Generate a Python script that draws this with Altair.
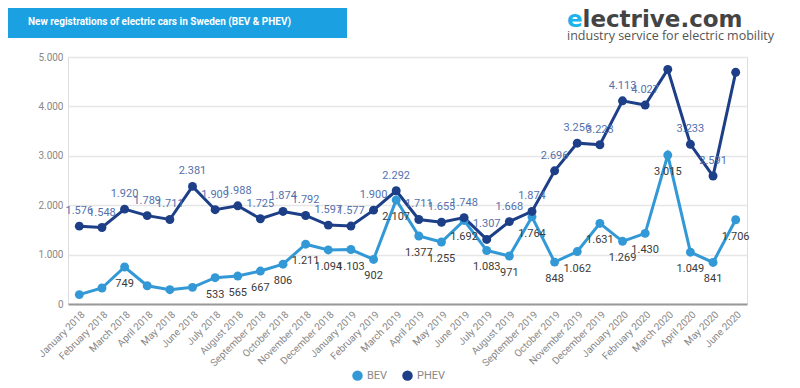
import altair as alt
import pandas as pd

months = [
    "January 2018", "February 2018", "March 2018", "April 2018", "May 2018", "June 2018",
    "July 2018", "August 2018", "September 2018", "October 2018", "November 2018", "December 2018",
    "January 2019", "February 2019", "March 2019", "April 2019", "May 2019", "June 2019",
    "July 2019", "August 2019", "September 2019", "October 2019", "November 2019", "December 2019",
    "January 2020", "February 2020", "March 2020", "April 2020", "May 2020", "June 2020",
]
bev = [190, 324, 749, 370, 290, 337, 533, 565, 667, 806, 1211, 1094,
       1103, 902, 2107, 1377, 1255, 1692, 1083, 971, 1764, 848, 1062, 1631,
       1269, 1430, 3015, 1049, 841, 1706]
phev = [1576, 1548, 1920, 1789, 1711, 2381, 1909, 1988, 1725, 1874, 1792, 1597,
        1577, 1900, 2292, 1711, 1655, 1748, 1307, 1668, 1874, 2696, 3256, 3223,
        4113, 4027, 4750, 3233, 2591, 4690]
bev_hidden = ["January 2018", "February 2018", "April 2018", "May 2018", "June 2018"]
phev_hidden = ["March 2020", "June 2020"]
series_names = ["BEV", "PHEV"]
series_colors = ["#3399d6", "#1d3f87"]
y_ticks = [0, 1000, 2000, 3000, 4000, 5000]

rows = []
for i, m in enumerate(months):
    rows.append({"month": m, "series": "BEV", "value": bev[i], "show": m not in bev_hidden})
for i, m in enumerate(months):
    rows.append({"month": m, "series": "PHEV", "value": phev[i], "show": m not in phev_hidden})
df = pd.DataFrame(rows)

fmt = "replace(format(datum.value, ','), ',', '.')"

x = alt.X("month:N", sort=months,
          scale=alt.Scale(type="point", padding=0.5),
          axis=alt.Axis(title=None, labelAngle=315, labelFontSize=10, labelColor="#888",
                        domainColor="#999", domainWidth=2, ticks=False, grid=False,
                        labelPadding=5))
y = alt.Y("value:Q", scale=alt.Scale(domain=[0, 5000], nice=False),
          axis=alt.Axis(title=None, values=y_ticks, labelExpr=fmt, domain=False, ticks=False,
                        gridColor="#e6e6e6", gridWidth=1.5, labelColor="#888", labelFontSize=10,
                        labelPadding=5))
color = alt.Color("series:N",
                  scale=alt.Scale(domain=series_names, range=series_colors),
                  legend=alt.Legend(title=None, orient="none", legendX=284, legendY=313,
                                    direction="horizontal", symbolType="circle", symbolSize=110,
                                    symbolStrokeWidth=0, labelColor="#888", labelFontSize=11,
                                    columnPadding=14))

base = alt.Chart(df).encode(x=x, y=y, color=color, order=alt.Order("series:N"))

lines = base.mark_line(strokeWidth=3)
pts = base.mark_point(filled=True, size=80, opacity=1)

bev_lbl = alt.Chart(df).transform_filter("datum.series == 'BEV' && datum.show").transform_calculate(
    label=fmt).mark_text(dy=17, fontSize=11, color="#3a3a3a").encode(
    x=alt.X("month:N", sort=months), y="value:Q", text="label:N")
phev_lbl = alt.Chart(df).transform_filter("datum.series == 'PHEV' && datum.show").transform_calculate(
    label=fmt).mark_text(dy=-15, fontSize=11, color="#5471ad").encode(
    x=alt.X("month:N", sort=months), y="value:Q", text="label:N")

deco = alt.Chart(pd.DataFrame({"k": [0]}))
banner = deco.mark_rect(color="#1ba1e2").encode(
    x=alt.value(-60), x2=alt.value(279), y=alt.value(-49), y2=alt.value(-19))
title = deco.mark_text(text="New registrations of electric cars in Sweden (BEV & PHEV)",
                       font="Roboto", fontWeight="bold", fontSize=10, color="white",
                       align="left", baseline="middle").encode(x=alt.value(-40), y=alt.value(-35))
logo_e = deco.mark_text(text="e", font="DejaVu Sans", fontWeight="bold", fontSize=23,
                        color="#1ab3ec", align="left", baseline="alphabetic").encode(
    x=alt.value(499), y=alt.value(-30))
logo_rest = deco.mark_text(text="lectrive.com", font="DejaVu Sans", fontWeight="bold", fontSize=23,
                           color="#444444", align="left", baseline="alphabetic").encode(
    x=alt.value(514.5), y=alt.value(-30))
logo_sub = deco.mark_text(text="industry service for electric mobility", font="Open Sans",
                          fontSize=12.5, color="#555555", align="left",
                          baseline="alphabetic").encode(x=alt.value(499), y=alt.value(-17))

chart = alt.layer(lines, pts, bev_lbl, phev_lbl, banner, title, logo_e, logo_rest, logo_sub).properties(
    width=679, height=247,
    padding={"left": 60, "top": 49, "right": 45, "bottom": 80},
    autosize=alt.AutoSizeParams(type="none"),
    background="white",
).configure_view(stroke=None).configure(font="Roboto")

chart.save("out.html", embed_options={"renderer": "svg", "actions": False})
